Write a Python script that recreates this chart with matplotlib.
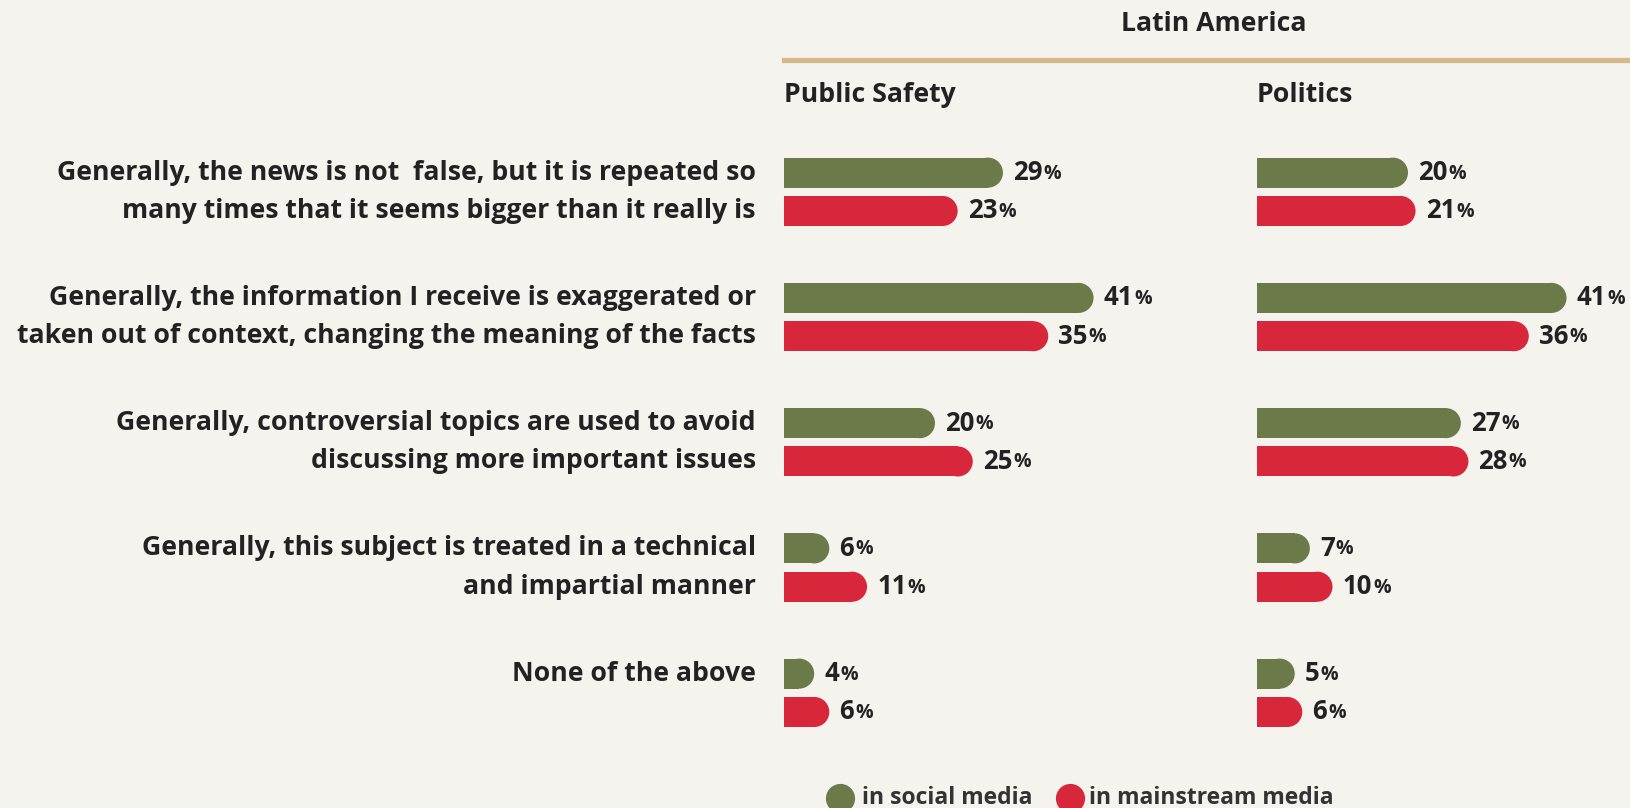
import matplotlib.pyplot as plt
from matplotlib.lines import Line2D
from matplotlib.patches import Ellipse

# --- data -------------------------------------------------------------
categories = [
    ["Generally, the news is not  false, but it is repeated so",
     "many times that it seems bigger than it really is"],
    ["Generally, the information I receive is exaggerated or",
     "taken out of context, changing the meaning of the facts"],
    ["Generally, controversial topics are used to avoid",
     "discussing more important issues"],
    ["Generally, this subject is treated in a technical",
     "and impartial manner"],
    ["None of the above"],
]
panels = ["Public Safety", "Politics"]
social = {
    "Public Safety": [29, 41, 20, 6, 4],
    "Politics": [20, 41, 27, 7, 5],
}
mainstream = {
    "Public Safety": [23, 35, 25, 11, 6],
    "Politics": [21, 36, 28, 10, 6],
}
region = "Latin America"
series_names = ["in social media", "in mainstream media"]

# --- style ------------------------------------------------------------
W, H = 1630, 808
BG = "#F5F3EE"
GREEN = "#6B7A48"
RED = "#D8263A"
TAN = "#D6B78E"
INK = "#222222"
FONT = "Open Sans"
WEIGHT = "bold"
SIZE = 19.2

plt.rcParams["font.family"] = [FONT, "DejaVu Sans"]

fig = plt.figure(figsize=(W / 100, H / 100), dpi=100)
fig.patch.set_facecolor(BG)


def fx(px):
    return px / W


def fy(py):
    return 1 - py / H


# axes geometry in pixels
row_step = 125.25
row_top = 191.8 - row_step / 2
n_rows = len(categories)
ax_h = n_rows * row_step
px_per_pct = 7.55
panel_left = {"Public Safety": 784, "Politics": 1257}
xmax = 60
off = 0.153      # green/red offset from row centre (row units)
bar_h = 0.24     # bar thickness (row units)

axes = {}
for name in panels:
    left = panel_left[name]
    ax = fig.add_axes([fx(left), fy(row_top + ax_h), fx(xmax * px_per_pct), ax_h / H])
    ax.set_xlim(0, xmax)
    ax.set_ylim(n_rows - 0.5, -0.5)
    ax.axis("off")
    ax.patch.set_visible(False)
    axes[name] = ax

    # radius of the rounded end in data units
    rx = (bar_h * row_step / 2) / px_per_pct
    for i in range(n_rows):
        for vals, color, dy in ((social, GREEN, -off), (mainstream, RED, off)):
            v = vals[name][i]
            y = i + dy
            ax.barh(y, v - rx, height=bar_h, color=color, linewidth=0)
            ax.add_patch(Ellipse((v - rx, y), 2 * rx, bar_h, color=color,
                                 linewidth=0))
            t = ax.annotate(f"{v}", (v, y), xytext=(10, 0),
                            textcoords="offset pixels", va="center", ha="left",
                            fontsize=18.5, fontweight=WEIGHT, color=INK)
            ax.annotate("%", (1, 0.5), xycoords=t, xytext=(1, -1),
                        textcoords="offset pixels", va="center", ha="left",
                        fontsize=14, fontweight=WEIGHT, color=INK)

    fig.text(fx(left), fy(94.5), name, fontsize=SIZE, fontweight=WEIGHT,
             color=INK, ha="left", va="center")

# category labels, one line per bar
lab_ax = axes["Public Safety"]
for i, lines in enumerate(categories):
    for j, line in enumerate(lines):
        y = i - off if j == 0 else i + off
        lab_ax.annotate(line, (0, y), xytext=(-28, 0),
                        textcoords="offset pixels", ha="right", va="center",
                        fontsize=SIZE, fontweight=WEIGHT, color=INK)

# header
fig.text(fx(1214), fy(24), region, fontsize=SIZE, fontweight=WEIGHT,
         color=INK, ha="center", va="center")
fig.add_artist(Line2D([fx(784), 1], [fy(59.5), fy(59.5)], color=TAN,
                      linewidth=3.8, transform=fig.transFigure))

# legend
leg_y = 798
for (cx, tx), color, label in zip(((840, 862), (1070, 1089)), (GREEN, RED),
                                  series_names):
    fig.add_artist(Line2D([fx(cx)], [fy(leg_y)], marker="o", markersize=21,
                          markerfacecolor=color, markeredgewidth=0,
                          linestyle="", transform=fig.transFigure))
    fig.text(fx(tx), fy(leg_y), label, fontsize=16.5, fontweight=WEIGHT,
             color="#333333", ha="left", va="center")

fig.savefig("out.png", dpi=100, facecolor=BG)
